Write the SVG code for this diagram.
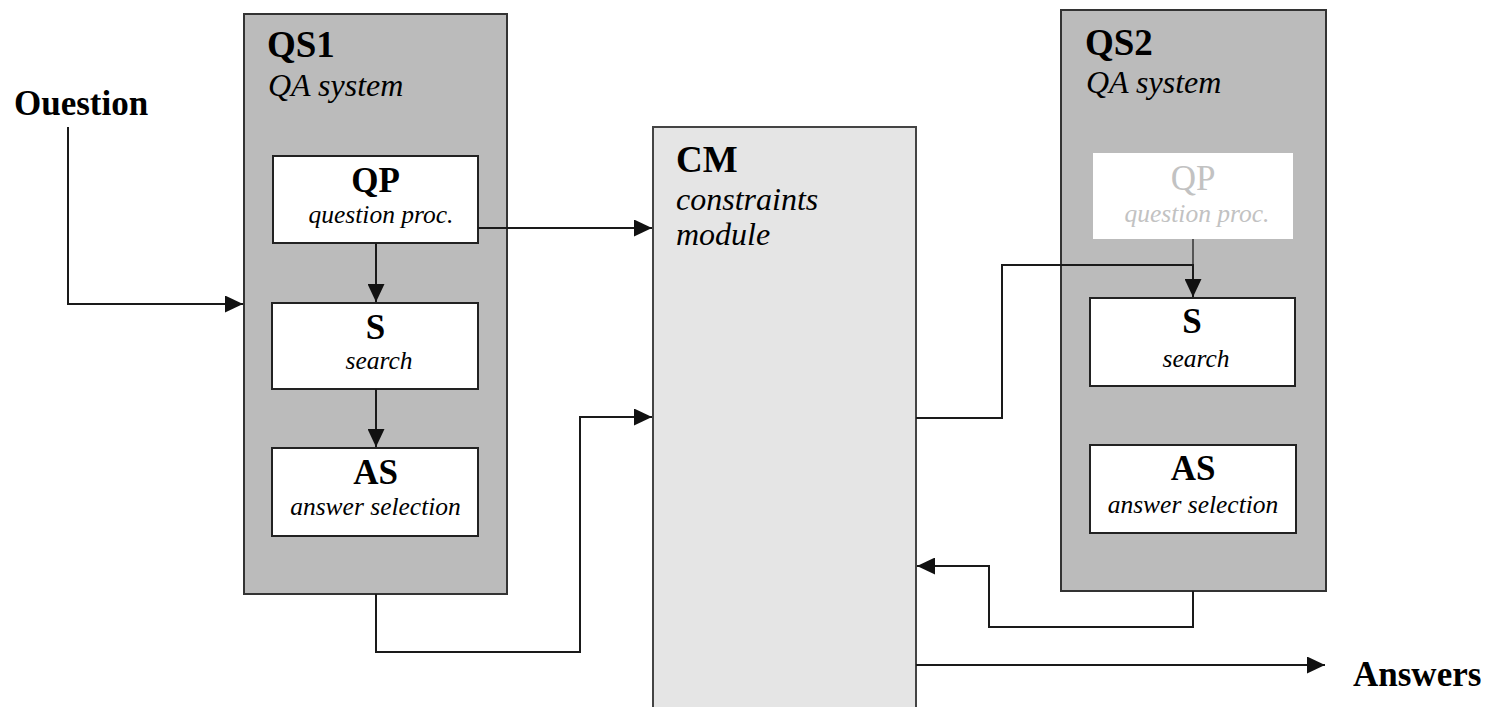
<svg xmlns="http://www.w3.org/2000/svg" width="1490" height="707" viewBox="0 0 1490 707">
<style>
.sys{fill:#bbbbbb;stroke:#333;stroke-width:2}
.box{fill:#ffffff;stroke:#222;stroke-width:2}
.cm{fill:#e5e5e5;stroke:#444;stroke-width:2}
.b{font-family:"Liberation Serif","Times New Roman",serif;font-weight:bold;fill:#000}
.i{font-family:"Liberation Serif","Times New Roman",serif;font-style:italic;fill:#000}
.hb{font-size:37px}
.hi{font-size:32px}
.nb{font-size:35px}
.ni{font-size:25.5px}
.faint{fill:#c2c2c2}
.c{text-anchor:middle}
.ln{fill:none;stroke:#1a1a1a;stroke-width:2}
</style>
<defs>
<marker id="ah" viewBox="0 0 18 17" refX="18" refY="8.5" markerWidth="18" markerHeight="17" markerUnits="userSpaceOnUse" orient="auto">
<path d="M0,0 L18,8.5 L0,17 z" fill="#111"/>
</marker>
</defs>
<rect width="1490" height="707" fill="#fff"/>

<g id="question-label"><text class="b nb" x="14" y="115">Ouestion</text></g>
<g id="answers-label"><text class="b nb" x="1353" y="686">Answers</text></g>

<g id="QS1">
<rect class="sys" x="244" y="14" width="263" height="580"/>
<text class="b hb" x="267" y="57">QS1</text>
<text class="i hi" x="268" y="96">QA system</text>
</g>
<g id="QS1-QP">
<rect class="box" x="273" y="156" width="205" height="87"/>
<text class="b nb c" x="375.5" y="192">QP</text>
<text class="i ni c" x="381" y="223">question proc.</text>
</g>
<g id="QS1-S">
<rect class="box" x="272" y="303" width="206" height="86"/>
<text class="b nb c" x="375.5" y="339">S</text>
<text class="i ni c" x="379" y="369">search</text>
</g>
<g id="QS1-AS">
<rect class="box" x="272" y="448" width="206" height="88"/>
<text class="b nb c" x="375.5" y="484">AS</text>
<text class="i ni c" x="375.5" y="515">answer selection</text>
</g>

<g id="CM">
<rect class="cm" x="653" y="127" width="263" height="590"/>
<text class="b hb" x="676" y="172">CM</text>
<text class="i hi" x="676" y="210">constraints</text>
<text class="i hi" x="676" y="245">module</text>
</g>

<g id="QS2">
<rect class="sys" x="1061" y="10" width="265" height="581"/>
<text class="b hb" x="1085" y="55">QS2</text>
<text class="i hi" x="1086" y="93">QA system</text>
</g>
<g id="QS2-QP">
<rect x="1093" y="153" width="200" height="86" fill="#fff"/>
<text class="nb c faint" x="1193" y="190" style="font-family:'Liberation Serif','Times New Roman',serif">QP</text>
<text class="i ni c faint" x="1197" y="222">question proc.</text>
</g>
<g id="QS2-S">
<rect class="box" x="1090" y="298" width="205" height="88"/>
<text class="b nb c" x="1192" y="333">S</text>
<text class="i ni c" x="1196" y="367">search</text>
</g>
<g id="QS2-AS">
<rect class="box" x="1090" y="445" width="206" height="88"/>
<text class="b nb c" x="1193" y="480">AS</text>
<text class="i ni c" x="1193" y="513">answer selection</text>
</g>

<g id="connectors">
<path class="ln" d="M68,127 V304 H243" marker-end="url(#ah)"/>
<path class="ln" d="M478,228 H652" marker-end="url(#ah)"/>
<path class="ln" d="M376,243 V302" marker-end="url(#ah)"/>
<path class="ln" d="M376,389 V447" marker-end="url(#ah)"/>
<path class="ln" d="M376,594 V652 H580 V417 H652" marker-end="url(#ah)"/>
<path d="M1193,239 V265" fill="none" stroke="#333" stroke-width="1.5"/>
<path class="ln" d="M916,418 H1002 V265 H1193 V297" marker-end="url(#ah)"/>
<path class="ln" d="M1193,591 V627 H989 V566 H917" marker-end="url(#ah)"/>
<path class="ln" d="M916,665 H1325" marker-end="url(#ah)"/>
</g>
</svg>
